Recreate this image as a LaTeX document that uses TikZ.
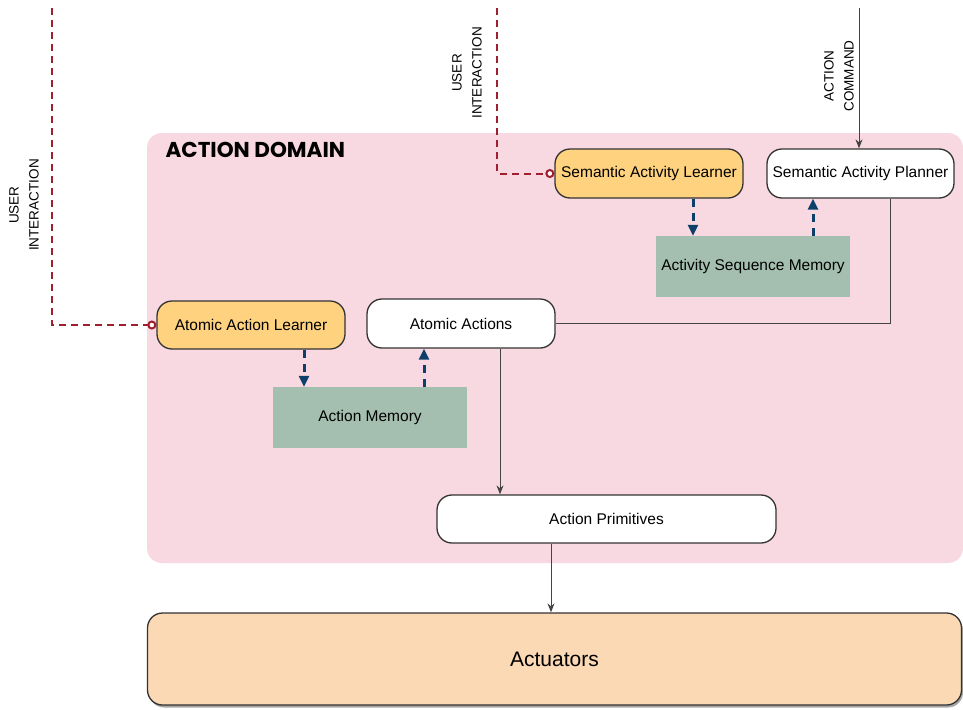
\documentclass[tikz,border=0pt]{standalone}
\usepackage{fontspec}
\setmainfont{Liberation Sans}
\newfontfamily\titlefont{Poppins}
\usetikzlibrary{arrows.meta,shadows}
\definecolor{domainpink}{HTML}{F8D9E1}
\definecolor{learnerfill}{HTML}{FED27E}
\definecolor{memfill}{HTML}{A4BFAF}
\definecolor{actfill}{HTML}{FBD9B4}
\definecolor{userred}{HTML}{A01E2E}
\definecolor{memblue}{HTML}{0D3F6B}
\definecolor{linegray}{HTML}{444444}
\definecolor{edgegray}{HTML}{333333}
\tikzset{
  roundbox/.style={draw=edgegray, line width=1.3pt, rounded corners=15pt, align=center,
    font=\fontsize{15.5}{18}\selectfont, inner sep=0pt},
  learner/.style={roundbox, fill=learnerfill},
  module/.style={roundbox, fill=white},
  memory/.style={fill=memfill, font=\fontsize{15.5}{18}\selectfont, inner sep=0pt},
  userlink/.style={draw=userred, line width=2pt, dash pattern=on 7pt off 5pt,
    -{Circle[open, fill=white, length=9pt, width=9pt, line width=2pt]}},
  flow/.style={draw=linegray, line width=1pt, -{Stealth[length=9pt, width=7pt]}},
  plain/.style={draw=linegray, line width=1pt},
  memlink/.style={draw=memblue, line width=3pt, dash pattern=on 8pt off 6pt,
    -{Triangle[length=11pt, width=10pt]}},
  sidelabel/.style={rotate=90, align=center, font=\fontsize{13.5}{20}\selectfont}
}
\begin{document}
\begin{tikzpicture}[x=1pt, y=-1pt]
\useasboundingbox (0,0) rectangle (963,709);

% action domain background
\fill[domainpink, rounded corners=15pt] (147,133) rectangle (963,563);
\node[anchor=west, font=\titlefont\bfseries\fontsize{21.5}{24}\selectfont] (domtitle) at (162,150) {ACTION DOMAIN};

% modules
\node[learner, minimum width=188pt, minimum height=49pt] (sal) at (649,173.5) {Semantic Activity Learner};
\node[module, minimum width=187pt, minimum height=49pt] (sap) at (860.5,173.5) {Semantic Activity Planner};
\node[memory, minimum width=194pt, minimum height=61pt] (asm) at (753,266.5) {Activity Sequence Memory};
\node[learner, minimum width=188pt, minimum height=48pt] (aal) at (251,325) {Atomic Action Learner};
\node[module, minimum width=188pt, minimum height=49pt] (aa) at (461,323.5) {Atomic Actions};
\node[memory, minimum width=194pt, minimum height=61pt] (am) at (370,417.5) {Action Memory};
\node[module, minimum width=339pt, minimum height=48pt] (ap) at (606.5,519) {Action Primitives};
\node[roundbox, fill=actfill, minimum width=814pt, minimum height=92pt,
  font=\fontsize{21}{24}\selectfont,
  drop shadow={shadow xshift=1.5pt, shadow yshift=-2.5pt, opacity=0.7}] (act) at (554.5,659) {Actuators};

% external inputs
\coordinate (ui1top) at (52,8);
\coordinate (ui1) at (52,325);
\coordinate (ui2top) at (497,8);
\coordinate (ui2) at (497,173.5);
\coordinate (cmdtop) at (859,8);
\node[sidelabel] (ui1lbl) at (24,205) {USER\\INTERACTION};
\node[sidelabel] (ui2lbl) at (467,73) {USER\\INTERACTION};
\node[sidelabel] (cmdlbl) at (839,76) {ACTION\\COMMAND};

\draw[userlink] (ui1top) -- (ui1) -- (aal.west);
\draw[userlink] (ui2top) -- (ui2) -- (sal.west);
\draw[flow] (cmdtop) -- (cmdtop |- sap.north);

% learner / memory exchange
\draw[memlink] (sal.south -| 693,0) -- (asm.north -| 693,0);
\draw[memlink] (asm.north -| 813,0) -- (sap.south -| 813,0);
\draw[memlink] (aal.south -| 304,0) -- (am.north -| 304,0);
\draw[memlink] (am.north -| 424,0) -- (aa.south -| 424,0);

% execution chain
\draw[plain] (sap.south -| 890,0) |- (aa.east);
\draw[flow] (aa.south -| 500,0) -- (ap.north -| 500,0);
\draw[flow] (ap.south -| 551,0) -- (act.north -| 551,0);
\end{tikzpicture}
\end{document}
